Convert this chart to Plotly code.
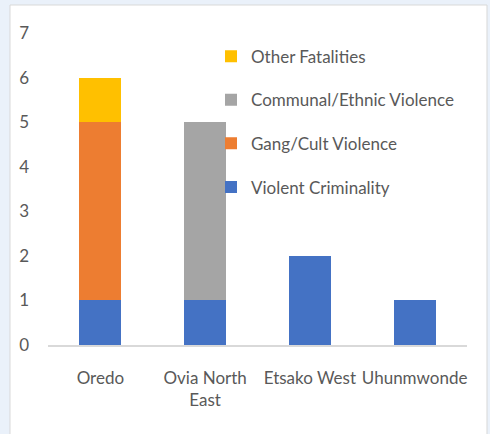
import plotly.graph_objects as go

categories = ["Oredo", "Ovia North<br>East", "Etsako West", "Uhunmwonde"]
violent_criminality = [1, 1, 2, 1]
gang_cult_violence = [4, 0, 0, 0]
communal_ethnic_violence = [0, 4, 0, 0]
other_fatalities = [1, 0, 0, 0]
y_ticks = [0, 1, 2, 3, 4, 5, 6, 7]

series = [
    ("Violent Criminality", violent_criminality, "#4472C4", 4),
    ("Gang/Cult Violence", gang_cult_violence, "#ED7D31", 3),
    ("Communal/Ethnic Violence", communal_ethnic_violence, "#A5A5A5", 2),
    ("Other Fatalities", other_fatalities, "#FFC000", 1),
]

fig = go.Figure()
for name, vals, color, rank in series:
    fig.add_trace(go.Bar(
        x=categories, y=vals, name=name, legendgroup=name, legendrank=rank,
        marker=dict(color=color, line=dict(width=0)),
        width=0.4,
    ))

font = dict(family="Lato, sans-serif", size=17, color="#595959")

fig.update_layout(
    width=490, height=434,
    barmode="stack",
    paper_bgcolor="#EAF1FA",
    plot_bgcolor="white",
    margin=dict(l=48, r=23, t=33, b=89),
    font=font,
    showlegend=True,
    legend=dict(
        x=(211 - 48) / 419, y=0.982, xanchor="left", yanchor="top",
        traceorder="grouped", tracegroupgap=18.5,
        bgcolor="rgba(0,0,0,0)", font=font,
        itemwidth=30,
    ),
    xaxis=dict(showline=True, linecolor="#D9D9D9", linewidth=1.5, tickangle=0,
               ticks="", ticklabelstandoff=17, tickfont=font, automargin=False),
    yaxis=dict(range=[0, 7], tickvals=y_ticks, showgrid=False, zeroline=False,
               showline=False, ticks="", ticklabelstandoff=18, tickfont=font,
               automargin=False),
    shapes=[dict(type="rect", xref="paper", yref="paper",
                 x0=-0.0907, x1=1.0477, y0=-0.32, y1=1.0897,
                 fillcolor="white", line=dict(color="#D9D9D9", width=1),
                 layer="below")],
)

fig.write_html("out.html", config={"displayModeBar": False},
               post_script="document.body.style.margin='0';")
